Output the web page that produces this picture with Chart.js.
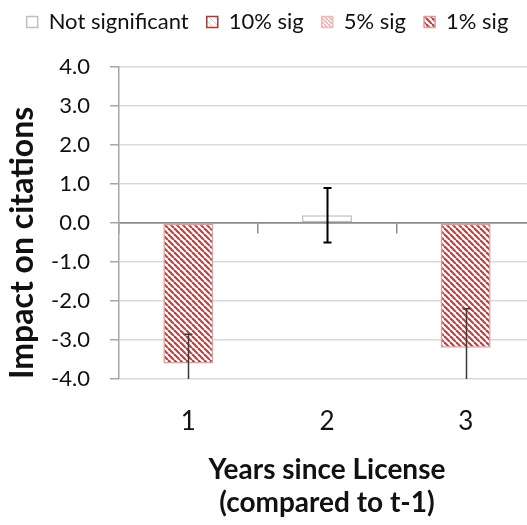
<!DOCTYPE html>
<html><head><meta charset="utf-8">
<script src="https://cdn.jsdelivr.net/npm/chart.js@4"></script>
<style>html,body{margin:0;padding:0;background:#fff;overflow:hidden}#wrap{width:535px;height:525px;position:relative}</style>
</head><body><div id="wrap"><canvas id="c"></canvas></div>
<script>
// ---- data ----
const categories = ['1', '2', '3'];
const notSignificant = [null, 0.2, null];
const sig10 = [null, null, null];
const sig5 = [null, null, null];
const sig1 = [-3.6, null, -3.2];
const errorMargins = [0.75, 0.7, 1.0];
const yTickValues = [-4, -3, -2, -1, 0, 1, 2, 3, 4];
const seriesNames = ['Not significant', '10% sig', '5% sig', '1% sig'];
const yTitle = 'Impact on citations';
const xTitle = ['Years since License', '(compared to t-1)'];

function stripes(fg, bg, period, width) {
  const c = document.createElement('canvas');
  c.width = c.height = period;
  const g = c.getContext('2d');
  g.fillStyle = bg; g.fillRect(0, 0, period, period);
  g.strokeStyle = fg; g.lineWidth = width;
  for (const o of [-period, 0, period]) {
    g.beginPath(); g.moveTo(o, 0); g.lineTo(o + period, period); g.stroke();
  }
  return g.createPattern(c, 'repeat');
}

const errorBars = {
  id: 'errorBars',
  afterDatasetsDraw(chart) {
    const {ctx, chartArea, scales: {x, y}} = chart;
    const values = categories.map((_, i) => notSignificant[i] ?? sig10[i] ?? sig5[i] ?? sig1[i]);
    ctx.save();
    ctx.beginPath();
    ctx.rect(chartArea.left, chartArea.top, chartArea.right - chartArea.left, chartArea.bottom - chartArea.top);
    ctx.clip();
    values.forEach((v, i) => {
      if (v == null) return;
      const isNS = notSignificant[i] != null;
      const px = Math.round(x.getPixelForValue(i)) + 0.5;
      const top = y.getPixelForValue(v + errorMargins[i]);
      const bot = y.getPixelForValue(v - errorMargins[i]);
      ctx.strokeStyle = isNS ? '#000' : '#3a3a3a';
      ctx.lineWidth = isNS ? 2 : 1.5;
      ctx.beginPath();
      ctx.moveTo(px, top); ctx.lineTo(px, bot);
      ctx.moveTo(px - 4, top); ctx.lineTo(px + 4, top);
      ctx.moveTo(px - 4, bot); ctx.lineTo(px + 4, bot);
      ctx.stroke();
    });
    ctx.restore();
  }
};

const legendGap = {
  id: 'legendGap',
  beforeInit(chart) {
    const fit = chart.legend.fit;
    chart.legend.fit = function () { fit.call(this); this.height += 24; };
  }
};

const font = 'Lato';
const common = {borderWidth: 1.5, borderSkipped: false, categoryPercentage: 0.4, barPercentage: 0.9};

new Chart(document.getElementById('c'), {
  type: 'bar',
  data: {
    labels: categories,
    datasets: [
      {label: seriesNames[0], data: notSignificant, backgroundColor: '#ffffff', borderColor: '#bfbfbf', ...common},
      {label: seriesNames[1], data: sig10, backgroundColor: stripes('#efc6c6', '#ffffff', 6, 1), borderColor: '#a63a3a', ...common},
      {label: seriesNames[2], data: sig5, backgroundColor: stripes('#e4a8a8', '#ffffff', 4, 1.5), borderColor: '#ecbcbc', ...common},
      {label: seriesNames[3], data: sig1, backgroundColor: stripes('#b04646', '#ffffff', 6, 2.2), borderColor: '#e39c9c', ...common}
    ]
  },
  options: {
    responsive: true, maintainAspectRatio: false, animation: false,
    layout: {padding: {top: -7, right: 0, left: 0, bottom: 0}},
    plugins: {
      tooltip: {enabled: false},
      legend: {
        position: 'top',
        labels: {color: '#111', font: {family: font, size: 22}, boxWidth: 11, boxHeight: 11, padding: 18}
      }
    },
    scales: {
      x: {
        stacked: true, offset: true,
        grid: {display: false, drawTicks: false},
        border: {display: false},
        ticks: {color: '#111', font: {family: font, size: 26}, padding: 27},
        title: {display: true, text: xTitle, color: '#111', font: {family: font, size: 28, weight: 'bold', lineHeight: 1.2}, padding: {top: 0, bottom: 5}},
        afterFit(s) { s.height = 146; }
      },
      x2: {
        type: 'category', position: {y: 0}, offset: true,
        grid: {display: true, offset: true, drawOnChartArea: false, drawTicks: true, tickLength: 10, tickColor: '#8c8c8c', lineWidth: 1.5},
        border: {display: true, color: '#8c8c8c', width: 1.5},
        ticks: {display: false}
      },
      y: {
        stacked: true, min: -4, max: 4,
        afterBuildTicks(s) { s.ticks = yTickValues.map(v => ({value: v})); },
        grid: {color: (c) => c.tick && c.tick.value === 0 ? '#8c8c8c' : '#d9d9d9', lineWidth: 1.5, tickLength: 9, tickColor: '#a6a6a6'},
        border: {display: true, color: '#a6a6a6', width: 1.5},
        ticks: {color: '#111', font: {family: font, size: 22}, padding: 20, callback: (v) => Number(v).toFixed(1)},
        title: {display: true, text: yTitle, align: 'start', color: '#111', font: {family: font, size: 32, weight: 'bold'}, padding: {top: 3, bottom: 0}},
        afterFit(s) { s.width = 119; }
      }
    }
  },
  plugins: [errorBars, legendGap]
});
</script></body></html>
